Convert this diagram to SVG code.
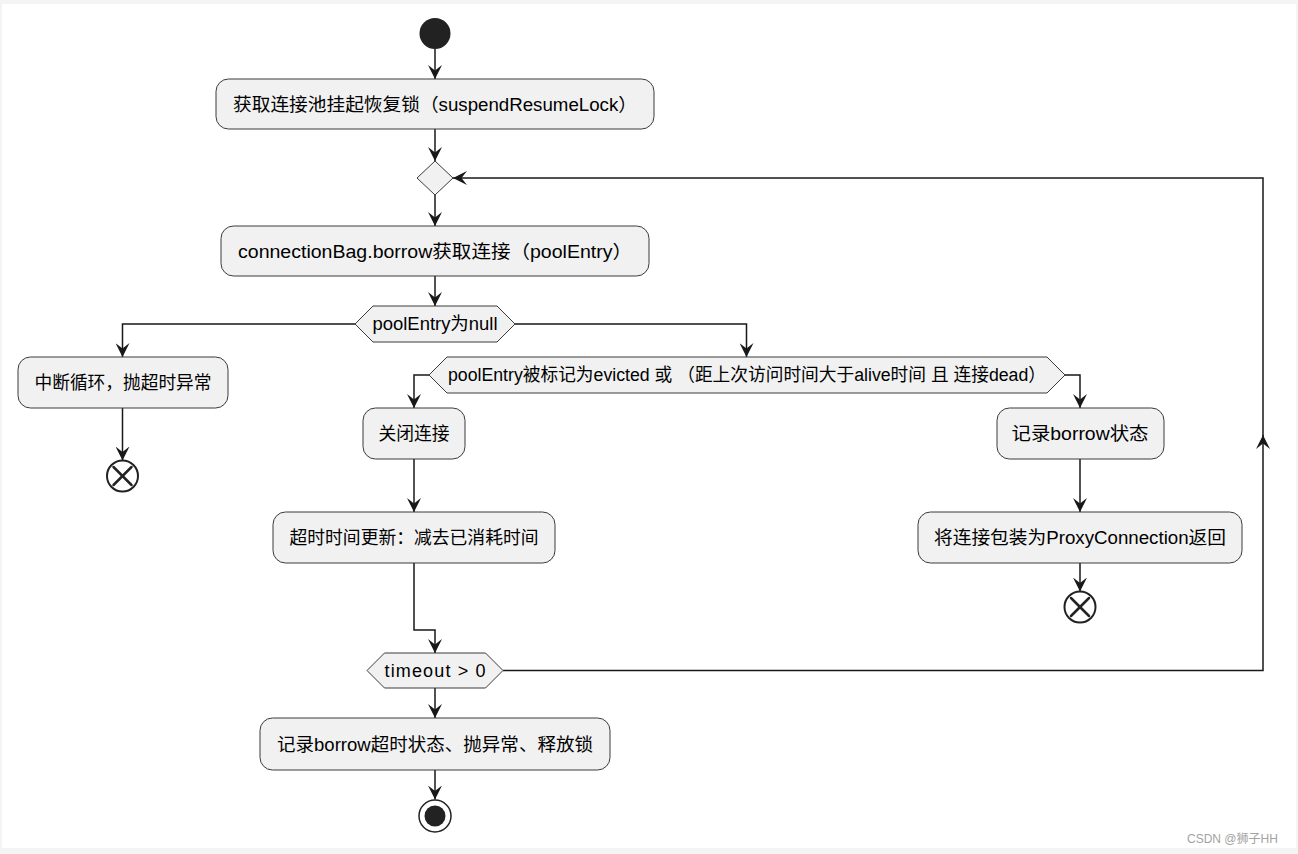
<svg xmlns="http://www.w3.org/2000/svg" width="1298" height="854" viewBox="0 0 1298 854">
<style>
.node{fill:#f1f1f1;stroke:#3a3a3a;stroke-width:1}
.t{font-family:"Liberation Sans","Noto Sans CJK SC",sans-serif;font-size:18px;fill:#000;text-anchor:middle}
.c{fill:none;stroke:#181818;stroke-width:1.5}
.end{fill:#fff;stroke:#222;stroke-width:2}
.x{stroke:#222;stroke-width:2.5;stroke-linecap:round}
.wm{font-family:"Liberation Sans","Noto Sans CJK SC",sans-serif;font-size:12px;fill:#a3a3a3}
</style>
<defs>
<marker id="ah" markerUnits="userSpaceOnUse" markerWidth="15" markerHeight="14" viewBox="0 0 15 14" refX="14" refY="7" orient="auto">
<path d="M0,0 L14,7 L0,14 L5.5,7 Z" fill="#181818"/>
</marker>
</defs>
<rect x="0" y="0" width="1298" height="854" fill="#f4f4f4"/>
<rect x="2" y="4" width="1294" height="844" fill="#ffffff"/>

<g id="connectors">
<path class="c" d="M435,49 L435,79" marker-end="url(#ah)"/>
<path class="c" d="M435,129 L435,161" marker-end="url(#ah)"/>
<path class="c" d="M435,195 L435,226" marker-end="url(#ah)"/>
<path class="c" d="M435,276 L435,306" marker-end="url(#ah)"/>
<path class="c" d="M355,324 L122.5,324 L122.5,357" marker-end="url(#ah)"/>
<path class="c" d="M515,324 L746.5,324 L746.5,357" marker-end="url(#ah)"/>
<path class="c" d="M122.5,408 L122.5,460.5" marker-end="url(#ah)"/>
<path class="c" d="M429,375 L414,375 L414,408" marker-end="url(#ah)"/>
<path class="c" d="M414,459 L414,512" marker-end="url(#ah)"/>
<path class="c" d="M414,563 L414,630 L435,630 L435,653" marker-end="url(#ah)"/>
<path class="c" d="M1065,375 L1080,375 L1080,408" marker-end="url(#ah)"/>
<path class="c" d="M1080,459 L1080,512" marker-end="url(#ah)"/>
<path class="c" d="M1080,563 L1080,591.5" marker-end="url(#ah)"/>
<path class="c" d="M435,688 L435,718" marker-end="url(#ah)"/>
<path class="c" d="M435,770 L435,799.5" marker-end="url(#ah)"/>
<path class="c" d="M503,670.5 L1263,670.5 L1263,435" marker-end="url(#ah)"/>
<path class="c" d="M1263,436 L1263,178 L453,178" marker-end="url(#ah)"/>
</g>

<g id="start"><circle cx="435" cy="33.5" r="15.5" fill="#222"/></g>

<g id="n1">
<rect class="node" x="216" y="79" width="438" height="50" rx="12.5"/>
<text class="t" x="435" y="110.5" textLength="404" lengthAdjust="spacingAndGlyphs">获取连接池挂起恢复锁（suspendResumeLock）</text>
</g>

<g id="merge"><polygon class="node" points="435,161 453,178 435,195 417,178"/></g>

<g id="n2">
<rect class="node" x="221" y="226" width="428" height="50" rx="12.5"/>
<text class="t" x="435" y="257.5" textLength="394" lengthAdjust="spacingAndGlyphs">connectionBag.borrow获取连接（poolEntry）</text>
</g>

<g id="if1">
<polygon class="node" points="355,324 373,306 497,306 515,324 497,342 373,342"/>
<text class="t" x="435" y="330" textLength="125" lengthAdjust="spacingAndGlyphs">poolEntry为null</text>
</g>

<g id="n3">
<rect class="node" x="18" y="357" width="210" height="51" rx="12.5"/>
<text class="t" x="123" y="389" textLength="177" lengthAdjust="spacingAndGlyphs">中断循环，抛超时异常</text>
</g>

<g id="end1">
<circle class="end" cx="122.5" cy="476" r="15.5"/>
<line class="x" x1="113.5" y1="467" x2="131.5" y2="485"/>
<line class="x" x1="131.5" y1="467" x2="113.5" y2="485"/>
</g>

<g id="if2">
<polygon class="node" points="429,375 447,357 1047,357 1065,375 1047,393 447,393"/>
<text class="t" x="747" y="381" textLength="598" lengthAdjust="spacingAndGlyphs">poolEntry被标记为evicted 或 （距上次访问时间大于alive时间 且 连接dead）</text>
</g>

<g id="n4">
<rect class="node" x="363" y="408" width="102" height="51" rx="12.5"/>
<text class="t" x="414" y="440" textLength="71" lengthAdjust="spacingAndGlyphs">关闭连接</text>
</g>

<g id="n5">
<rect class="node" x="273" y="512" width="282" height="51" rx="12.5"/>
<text class="t" x="414" y="544" textLength="249" lengthAdjust="spacingAndGlyphs">超时时间更新：减去已消耗时间</text>
</g>

<g id="n6">
<rect class="node" x="997" y="408" width="167" height="51" rx="12.5"/>
<text class="t" x="1080" y="440" textLength="137" lengthAdjust="spacingAndGlyphs">记录borrow状态</text>
</g>

<g id="n7">
<rect class="node" x="918" y="512" width="324" height="51" rx="12.5"/>
<text class="t" x="1080" y="544" textLength="292" lengthAdjust="spacingAndGlyphs">将连接包装为ProxyConnection返回</text>
</g>

<g id="end2">
<circle class="end" cx="1080" cy="607" r="15.5"/>
<line class="x" x1="1071" y1="598" x2="1089" y2="616"/>
<line class="x" x1="1089" y1="598" x2="1071" y2="616"/>
</g>

<g id="if3">
<polygon class="node" points="367,670.5 384.5,653 485.5,653 503,670.5 485.5,688 384.5,688"/>
<text class="t" x="435" y="676.5" textLength="101" lengthAdjust="spacing">timeout &gt; 0</text>
</g>

<g id="n8">
<rect class="node" x="260" y="718" width="350" height="52" rx="12.5"/>
<text class="t" x="435" y="750.5" textLength="316" lengthAdjust="spacingAndGlyphs">记录borrow超时状态、抛异常、释放锁</text>
</g>

<g id="stop">
<circle cx="435" cy="816" r="16" fill="#fff" stroke="#222" stroke-width="1.5"/>
<circle cx="435" cy="816" r="10.5" fill="#222"/>
</g>

<text class="wm" x="1187" y="843">CSDN @狮子HH</text>
</svg>
